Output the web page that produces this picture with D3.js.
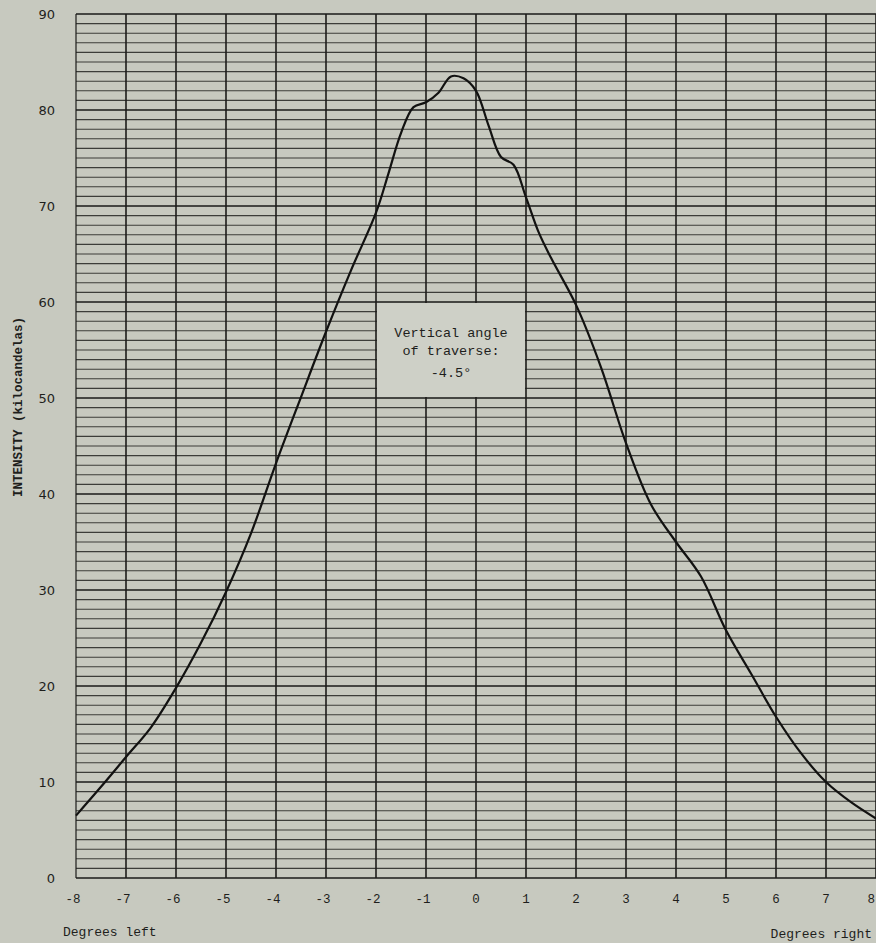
<!DOCTYPE html>
<html>
<head>
<meta charset="utf-8">
<script src="https://cdn.jsdelivr.net/npm/d3@7"></script>
<style>
  body { margin: 0; background: #c7c9bf; }
  svg { display: block; }
</style>
</head>
<body>
<div id="chart"></div>
<script>
// intensity curve (degrees, kilocandelas)
var degrees = [-8, -7.5, -7, -6.5, -6, -5.5, -5, -4.5, -4, -3.5, -3, -2.5, -2, -1.75, -1.5, -1.25, -1, -0.75, -0.5, -0.25, 0, 0.25, 0.5, 0.75, 1, 1.25, 1.5, 2, 2.5, 3, 3.5, 4, 4.5, 5, 5.5, 6, 6.5, 7, 7.5, 8]
var intensity = [6.5, 9.5, 12.6, 15.7, 19.8, 24.5, 29.8, 35.9, 43.2, 50.1, 56.9, 63.3, 69.3, 73.4, 77.6, 80.3, 80.8, 81.8, 83.5, 83.3, 82, 78.4, 75.1, 74.3, 70.9, 67.3, 64.6, 59.7, 53.2, 45.3, 38.9, 35, 31.4, 25.8, 21.3, 16.8, 13.0, 10.0, 7.9, 6.2]

var xTicks = [-8, -7, -6, -5, -4, -3, -2, -1, 0, 1, 2, 3, 4, 5, 6, 7, 8]
var yTicks = [0, 10, 20, 30, 40, 50, 60, 70, 80, 90]
var yMinor = d3.range(1, 90)
var noteLines = ["Vertical angle", "of traverse:", "-4.5\u00b0"]

var width = 876, height = 943
var mono = "'Liberation Mono', 'DejaVu Sans Mono', monospace"

var x = d3.scaleLinear().domain([-8, 8]).range([76, 876])
var y = d3.scaleLinear().domain([0, 90]).range([878, 14])

var svg = d3.select("#chart").append("svg")
    .attr("width", width)
    .attr("height", height)

svg.append("rect")
    .attr("width", width).attr("height", height)
    .attr("fill", "#c7c9bf")

/* grid */
var grid = svg.append("g").attr("class", "grid")

grid.selectAll(".hminor")
    .data(yMinor.filter(d => d % 10 !== 0))
    .enter().append("line")
    .attr("x1", x(-8)).attr("x2", x(8))
    .attr("y1", d => y(d)).attr("y2", d => y(d))
    .attr("stroke", "#3c3d39")
    .attr("stroke-width", 1.1)

grid.selectAll(".hmajor")
    .data(yTicks)
    .enter().append("line")
    .attr("x1", x(-8)).attr("x2", x(8))
    .attr("y1", d => y(d)).attr("y2", d => y(d))
    .attr("stroke", "#1a1a18")
    .attr("stroke-width", 1.7)

grid.selectAll(".vline")
    .data(xTicks)
    .enter().append("line")
    .attr("x1", d => x(d)).attr("x2", d => x(d))
    .attr("y1", y(90)).attr("y2", y(0))
    .attr("stroke", "#1c1c1a")
    .attr("stroke-width", d => d === -8 ? 1.2 : 1.6)

/* note box, covers the grid between -2..1 and 50..60 */
svg.append("rect")
    .attr("x", x(-2) + 1)
    .attr("y", y(60) + 1)
    .attr("width", x(1) - x(-2) - 2)
    .attr("height", y(50) - y(60) - 2)
    .attr("fill", "#ced0c7")

svg.append("g")
    .selectAll("text")
    .data(noteLines)
    .enter().append("text")
    .attr("x", x(-0.5))
    .attr("y", (d, i) => 337 + i * 18 + (i === 2 ? 4 : 0))
    .attr("text-anchor", "middle")
    .attr("font-family", mono)
    .attr("font-size", "13.5px")
    .attr("fill", "#1e1e1c")
    .text(d => d)

/* curve */
var line = d3.line()
    .x(d => x(d[0]))
    .y(d => y(d[1]))
    .curve(d3.curveCatmullRom.alpha(0.5))

svg.append("path")
    .datum(d3.zip(degrees, intensity))
    .attr("d", line)
    .attr("fill", "none")
    .attr("stroke", "#121211")
    .attr("stroke-width", 2.2)
    .attr("stroke-linejoin", "round")

/* axes labels */
svg.append("g")
    .selectAll("text")
    .data(yTicks)
    .enter().append("text")
    .attr("x", 55)
    .attr("y", d => y(d) + 5)
    .attr("text-anchor", "end")
    .attr("font-family", "'DejaVu Sans', sans-serif")
    .attr("font-size", "13px")
    .attr("fill", "#1e1e1c")
    .text(d => d)

svg.append("g")
    .selectAll("text")
    .data(xTicks)
    .enter().append("text")
    .attr("x", d => d === 8 ? 875 : x(d) - (d < 0 ? 3 : 0))
    .attr("y", 903)
    .attr("text-anchor", d => d === 8 ? "end" : "middle")
    .attr("font-family", mono)
    .attr("font-size", "12.5px")
    .attr("fill", "#1e1e1c")
    .text(d => d)

svg.append("text")
    .attr("x", 63).attr("y", 936)
    .attr("font-family", mono)
    .attr("font-size", "13px")
    .attr("fill", "#1e1e1c")
    .text("Degrees left")

svg.append("text")
    .attr("x", 872).attr("y", 938)
    .attr("text-anchor", "end")
    .attr("font-family", mono)
    .attr("font-size", "13px")
    .attr("fill", "#1e1e1c")
    .text("Degrees right")

svg.append("text")
    .attr("transform", "translate(22,407) rotate(-90)")
    .attr("text-anchor", "middle")
    .attr("font-family", mono)
    .attr("font-size", "12.5px")
    .attr("font-weight", "bold")
    .attr("fill", "#1e1e1c")
    .text("INTENSITY (kilocandelas)")
</script>
</body>
</html>
